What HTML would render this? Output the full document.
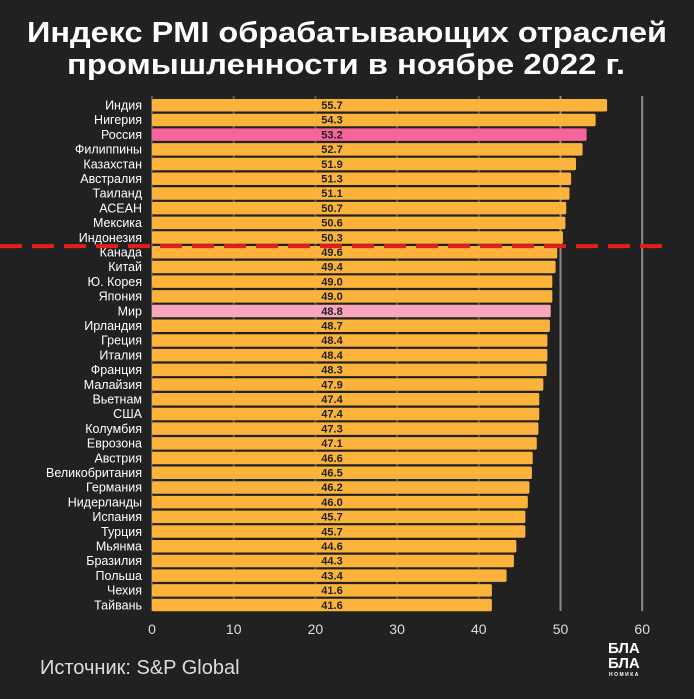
<!DOCTYPE html>
<html><head><meta charset="utf-8"><style>
body{margin:0;background:#212121;width:694px;height:694px;overflow:hidden;font-family:"Liberation Sans",sans-serif}
</style></head><body>
<svg width="694" height="694" xmlns="http://www.w3.org/2000/svg">
<rect width="694" height="694" fill="#212121"/>
<text x="27" y="42" textLength="640" lengthAdjust="spacingAndGlyphs" fill="#fff" font-size="29" font-weight="bold">Индекс PMI обрабатывающих отраслей</text>
<text x="67" y="74" textLength="558" lengthAdjust="spacingAndGlyphs" fill="#fff" font-size="29" font-weight="bold">промышленности в ноябре 2022 г.</text>
<g id="grid"></g><g id="bars"></g><g id="axis"></g>
<text x="40" y="674" fill="#ddd" font-size="20">Источник: S&amp;P Global</text>
<g fill="#fff" font-weight="bold">
<text x="608" y="653" font-size="15">БЛА</text>
<text x="608" y="668" font-size="15">БЛА</text>
<text x="609" y="676" font-size="5" letter-spacing="1.5">НОМИКА</text>
</g>
</svg>
<script>
const countries=["Индия","Нигерия","Россия","Филиппины","Казахстан","Австралия","Таиланд","АСЕАН","Мексика","Индонезия","Канада","Китай","Ю. Корея","Япония","Мир","Ирландия","Греция","Италия","Франция","Малайзия","Вьетнам","США","Колумбия","Еврозона","Австрия","Великобритания","Германия","Нидерланды","Испания","Турция","Мьянма","Бразилия","Польша","Чехия","Тайвань"];
const values=[55.7,54.3,53.2,52.7,51.9,51.3,51.1,50.7,50.6,50.3,49.6,49.4,49.0,49.0,48.8,48.7,48.4,48.4,48.3,47.9,47.4,47.4,47.3,47.1,46.6,46.5,46.2,46.0,45.7,45.7,44.6,44.3,43.4,41.6,41.6];
const ticks=[0,10,20,30,40,50,60];
const threshold=50;
const NS="http://www.w3.org/2000/svg";
const x=v=>152+v*8.17;
const y=i=>105+i*14.7;
function mk(t,a,p){const e=document.createElementNS(NS,t);for(const k in a)e.setAttribute(k,a[k]);p.appendChild(e);return e;}
const grid=document.getElementById('grid'),bars=document.getElementById('bars'),axis=document.getElementById('axis');
ticks.forEach(t=>{
 const l=mk('line',{x1:x(t),x2:x(t),y1:96,y2:611,stroke:t>=50?'#8a8a8a':'#5a5a5a','stroke-width':2},grid);
 
 
 const tx=mk('text',{x:x(t),y:634,'text-anchor':'middle',fill:'#ddd','font-size':14},axis);
 tx.textContent=t;
 
 
});
countries.forEach((c,i)=>{
 const col=c==="Россия"?'#f6649a':c==="Мир"?'#f7a6bd':'#fbb33b';
 const r=mk('rect',{x:x(0),y:y(i)-6,width:x(values[i])-x(0),height:12.5,rx:1.5,fill:col},bars);
 
 
 const lb=mk('text',{x:142,y:y(i)+4.5,'text-anchor':'end',fill:'#fff','font-size':12.5},bars);
 lb.textContent=c;
 
 
 const v=mk('text',{x:332,y:y(i)+4,'text-anchor':'middle',fill:'#222','font-size':11,'font-weight':'bold'},bars);
 v.textContent=values[i].toFixed(1);
 
 
});
const idx=values.findIndex(v=>v<threshold);
const dy=(y(idx-1)+y(idx))/2+1.5;
const d=mk('line',{x1:0,x2:665,y1:dy,y2:dy,stroke:'#e81c1c','stroke-width':4,'stroke-dasharray':'22,10'},bars);


</script>
</body></html>
